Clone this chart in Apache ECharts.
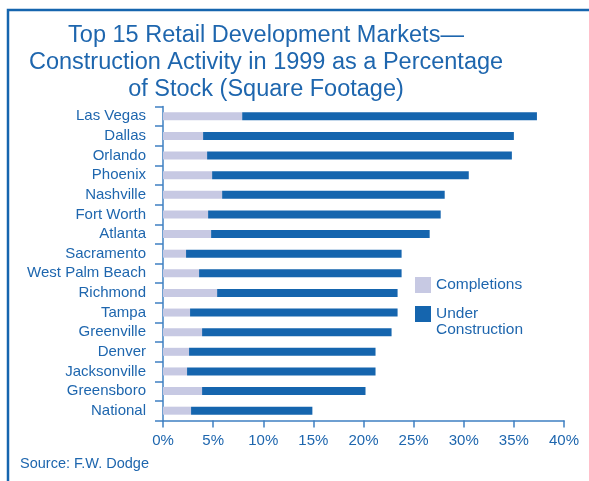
<!DOCTYPE html>
<html>
<head>
<meta charset="utf-8">
<script src="https://cdn.jsdelivr.net/npm/echarts@6/dist/echarts.min.js"></script>
<style>
  html, body { margin: 0; padding: 0; background: #fff; }
  #chart { width: 589px; height: 481px; }
</style>
</head>
<body>
<div id="chart"></div>
<script>
// markets, top to bottom
var markets = ['Las Vegas', 'Dallas', 'Orlando', 'Phoenix', 'Nashville', 'Fort Worth', 'Atlanta',
  'Sacramento', 'West Palm Beach', 'Richmond', 'Tampa', 'Greenville', 'Denver', 'Jacksonville',
  'Greensboro', 'National']
// % of stock
var completions = [7.9, 4.0, 4.4, 4.9, 5.9, 4.5, 4.8, 2.3, 3.6, 5.4, 2.7, 3.9, 2.6, 2.4, 3.9, 2.8]
var underConstruction = [29.4, 31.0, 30.4, 25.6, 22.2, 23.2, 21.8, 21.5, 20.2, 18.0, 20.7, 18.9, 18.6, 18.8, 16.3, 12.1]
var xTicks = { min: 0, max: 40, step: 5 }

var blue = '#1565ae'
var lilac = '#c7c9e3'
var textBlue = '#1e66ae'
var axisBlue = '#3f80c2'
var font = '"Liberation Sans", Arial, sans-serif'

var chart = echarts.init(document.getElementById('chart'))

chart.setOption({
  animation: false,
  textStyle: { fontFamily: font, color: textBlue },
  title: {
    text: 'Top 15 Retail Development Markets—\nConstruction Activity in 1999 as a Percentage\nof Stock (Square Footage)',
    left: 266,
    top: 22,
    padding: 0,
    textAlign: 'center',
    textStyle: {
      fontFamily: font,
      fontSize: 23.5,
      fontWeight: 'normal',
      color: textBlue,
      lineHeight: 27
    }
  },
  legend: [{
    data: ['Completions'],
    orient: 'vertical',
    left: 415,
    top: 277,
    padding: 0,
    icon: 'rect',
    itemWidth: 16,
    itemHeight: 16,
    textStyle: { fontFamily: font, fontSize: 15.5, color: textBlue }
  }, {
    data: ['Under Construction'],
    orient: 'vertical',
    left: 415,
    top: 290,
    padding: 0,
    icon: 'rect',
    itemWidth: 16,
    itemHeight: 16,
    // blank first line keeps "Under" level with the square
    formatter: function () { return ' \nUnder\nConstruction' },
    textStyle: { fontFamily: font, fontSize: 15.5, color: textBlue, lineHeight: 16 }
  }],
  grid: { left: 163, right: 25, top: 106.5, bottom: 60.5 },
  xAxis: {
    type: 'value',
    min: xTicks.min,
    max: xTicks.max,
    interval: xTicks.step,
    axisLine: { show: true, lineStyle: { color: axisBlue, width: 1.5 } },
    axisTick: { show: true, length: 7, lineStyle: { color: axisBlue, width: 1.5 } },
    axisLabel: { formatter: '{value}%', fontSize: 15, color: textBlue, fontFamily: font, margin: 13 },
    splitLine: { show: false }
  },
  yAxis: {
    type: 'category',
    inverse: true,
    data: markets,
    axisLine: { show: true, lineStyle: { color: axisBlue, width: 1.5 } },
    axisTick: { show: true, inside: false, length: 8, lineStyle: { color: axisBlue, width: 1.5 } },
    axisLabel: { fontSize: 15, color: textBlue, fontFamily: font, margin: 17 }
  },
  series: [{
    name: 'Completions',
    type: 'bar',
    stack: 'total',
    barWidth: 8,
    itemStyle: { color: lilac },
    data: completions
  }, {
    name: 'Under Construction',
    type: 'bar',
    stack: 'total',
    barWidth: 8,
    itemStyle: { color: blue },
    data: underConstruction
  }],
  graphic: [{
    type: 'rect',
    shape: { x: 8, y: 10, width: 700, height: 600 },
    style: { fill: 'none', stroke: '#1565ae', lineWidth: 2.5 },
    silent: true
  }, {
    type: 'text',
    left: 20,
    top: 456,
    style: { text: 'Source: F.W. Dodge', font: '14.5px ' + font, fill: textBlue }
  }]
})
</script>
</body>
</html>
